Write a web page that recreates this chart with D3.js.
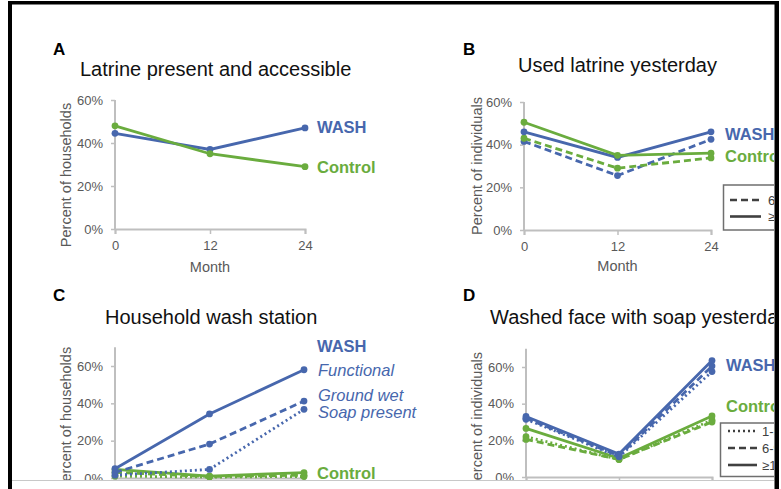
<!DOCTYPE html>
<html>
<head>
<meta charset="utf-8">
<script src="https://cdn.jsdelivr.net/npm/d3@7"></script>
<style>
  body { margin: 0; background: #fff; }
  svg { display: block; }
  text { font-family: "Liberation Sans", Arial, Helvetica, sans-serif; }
</style>
</head>
<body>
<svg id="fig" width="781" height="489"></svg>
<script>
// Survey months
const months = [0, 12, 24];
const monthTicks = [0, 12, 24];
const pctTicks = [0, 20, 40, 60];

// A. Latrine present and accessible (% of households)
const washLatrine = [44.5, 37, 47];
const controlLatrine = [48, 35, 29];

// B. Used latrine yesterday (% of individuals), by age group
const washUsed6to9 = [41.5, 25.5, 42.5];
const washUsed10plus = [46, 34, 46];
const controlUsed6to9 = [43, 29, 33.8];
const controlUsed10plus = [50.5, 35, 36];

// C. Household wash station (% of households)
const washFunctional = [5, 34.3, 58];
const washGroundWet = [3, 18.2, 41.2];
const washSoap = [1.5, 4.6, 36.8];
const controlFunctional = [4.6, 1, 2.9];
const controlGroundWet = [3, 0.8, 1.5];
const controlSoap = [1, 0.5, 0.8];

// D. Washed face with soap yesterday (% of individuals), by age group
const washFace1to5 = [31.5, 11, 57.5];
const washFace6to9 = [32, 11.5, 60.5];
const washFace10plus = [33, 12.5, 63.5];
const controlFace1to5 = [22, 9.5, 31];
const controlFace6to9 = [20.5, 9.6, 30];
const controlFace10plus = [26.5, 10.2, 33.3];

const ageGroups3 = ["1-5 years", "6-9 years", "\u226510 years"];
const ageGroups2 = ["6-9 years", "\u226510 years"];

const BLUE = "#4767ad";
const GREEN = "#6aac3e";
const AXIS = "#bfbfbf";
const TICKTXT = "#595959";
const DASH = "7,4";
const DOT = "2,3";

const svg = d3.select("#fig");

svg.append("defs").append("clipPath").attr("id", "frameClip")
  .append("rect").attr("x", 12).attr("y", 4).attr("width", 762).attr("height", 476);

const root = svg.append("g").attr("clip-path", "url(#frameClip)");

const panels = [
  {
    letter: "A", letterAt: [53, 55],
    title: "Latrine present and accessible", titleAt: [80, 76],
    yLabel: "Percent of households", yLabelAt: [71, 175],
    xRange: [115, 305], yRange: [229, 100], yMax: 60, yTop: 60,
    monthAt: 272,
    series: [
      { values: washLatrine, color: BLUE, dash: null },
      { values: controlLatrine, color: GREEN, dash: null }
    ],
    labels: [
      { text: "WASH", at: [317, 133], color: BLUE, weight: "bold", style: "normal" },
      { text: "Control", at: [317, 173], color: GREEN, weight: "bold", style: "normal" }
    ]
  },
  {
    letter: "B", letterAt: [463, 54.5],
    title: "Used latrine yesterday", titleAt: [518, 72],
    yLabel: "Percent of individuals", yLabelAt: [481.5, 166],
    xRange: [524, 711], yRange: [230, 102], yMax: 60, yTop: 60,
    monthAt: 271,
    series: [
      { values: washUsed6to9, color: BLUE, dash: DASH },
      { values: controlUsed6to9, color: GREEN, dash: DASH },
      { values: washUsed10plus, color: BLUE, dash: null },
      { values: controlUsed10plus, color: GREEN, dash: null }
    ],
    labels: [
      { text: "WASH", at: [725, 140], color: BLUE, weight: "bold", style: "normal" },
      { text: "Control", at: [725, 162], color: GREEN, weight: "bold", style: "normal" }
    ],
    legend: { box: [723.5, 185, 80, 45], rows: [200, 216.5], x: [730, 761], textX: 768,
              names: ageGroups2, dashes: [DASH, null] }
  },
  {
    letter: "C", letterAt: [53, 300.5],
    title: "Household wash station", titleAt: [105, 324],
    yLabel: "Percent of households", yLabelAt: [71, 419],
    xRange: [115, 304], yRange: [478, 366], yMax: 60, yTop: 70,
    monthAt: 520,
    series: [
      { values: controlSoap, color: GREEN, dash: DOT },
      { values: controlGroundWet, color: GREEN, dash: DASH },
      { values: controlFunctional, color: GREEN, dash: null },
      { values: washSoap, color: BLUE, dash: DOT },
      { values: washGroundWet, color: BLUE, dash: DASH },
      { values: washFunctional, color: BLUE, dash: null }
    ],
    labels: [
      { text: "WASH", at: [317, 352], color: BLUE, weight: "bold", style: "normal" },
      { text: "Functional", at: [318, 376], color: BLUE, weight: "normal", style: "italic" },
      { text: "Ground wet", at: [318, 401], color: BLUE, weight: "normal", style: "italic" },
      { text: "Soap present", at: [318, 418], color: BLUE, weight: "normal", style: "italic" },
      { text: "Control", at: [317, 479], color: GREEN, weight: "bold", style: "normal" }
    ]
  },
  {
    letter: "D", letterAt: [463, 300.5],
    title: "Washed face with soap yesterday", titleAt: [490, 324],
    yLabel: "Percent of individuals", yLabelAt: [481.5, 421],
    xRange: [526, 712], yRange: [477, 367], yMax: 60, yTop: 70,
    monthAt: 520,
    series: [
      { values: controlFace1to5, color: GREEN, dash: DOT },
      { values: controlFace6to9, color: GREEN, dash: DASH },
      { values: controlFace10plus, color: GREEN, dash: null },
      { values: washFace1to5, color: BLUE, dash: DOT },
      { values: washFace6to9, color: BLUE, dash: DASH },
      { values: washFace10plus, color: BLUE, dash: null }
    ],
    labels: [
      { text: "WASH", at: [726, 371], color: BLUE, weight: "bold", style: "normal" },
      { text: "Control", at: [726, 412], color: GREEN, weight: "bold", style: "normal" }
    ],
    legend: { box: [720.5, 423, 80, 53.5], rows: [431, 448, 465], x: [728, 757], textX: 762,
              names: ageGroups3, dashes: [DOT, DASH, null] }
  }
];

panels.forEach(p => {
  const g = root.append("g");

  g.append("text").attr("x", p.letterAt[0]).attr("y", p.letterAt[1])
    .attr("font-size", 17).attr("font-weight", "bold").attr("fill", "#000").text(p.letter);

  g.append("text").attr("x", p.titleAt[0]).attr("y", p.titleAt[1])
    .attr("font-size", 20).attr("fill", "#111").text(p.title);

  const x = d3.scaleLinear().domain([0, 24]).range(p.xRange);
  const y = d3.scaleLinear().domain([0, p.yMax]).range(p.yRange);

  // y axis
  const yAxis = g.append("g").attr("transform", `translate(${p.xRange[0]},0)`)
    .call(d3.axisLeft(y).tickValues(pctTicks).tickFormat(d => d + "%").tickSize(4).tickPadding(8));
  yAxis.select(".domain").attr("d", `M0,${y(0)}V${y(p.yTop)}`);
  // x axis
  const xAxis = g.append("g").attr("transform", `translate(0,${y(0)})`)
    .call(d3.axisBottom(x).tickValues(monthTicks).tickSize(5).tickPadding(7));

  [yAxis, xAxis].forEach(ax => {
    ax.select(".domain").attr("stroke", AXIS).attr("stroke-width", 2);
    ax.selectAll(".tick line").attr("stroke", AXIS).attr("stroke-width", 1.5);
    ax.selectAll(".tick text").attr("fill", TICKTXT).attr("font-size", 13)
      .attr("font-family", "'Liberation Sans', Arial, sans-serif");
  });

  g.append("text")
    .attr("transform", `translate(${p.yLabelAt[0]},${p.yLabelAt[1]}) rotate(-90)`)
    .attr("text-anchor", "middle").attr("font-size", 14.5).attr("fill", TICKTXT)
    .text(p.yLabel);

  g.append("text").attr("x", (p.xRange[0] + p.xRange[1]) / 2).attr("y", p.monthAt)
    .attr("text-anchor", "middle").attr("font-size", 14.5).attr("fill", TICKTXT)
    .text("Month");

  const line = d3.line().x((d, i) => x(months[i])).y(d => y(d));

  p.series.forEach(s => {
    g.append("path").datum(s.values).attr("d", line)
      .attr("fill", "none").attr("stroke", s.color).attr("stroke-width", 2.8)
      .attr("stroke-dasharray", s.dash);
    g.selectAll(null).data(s.values).enter().append("circle")
      .attr("cx", (d, i) => x(months[i])).attr("cy", d => y(d)).attr("r", 3.4)
      .attr("fill", s.color);
  });

  p.labels.forEach(l => {
    g.append("text").attr("x", l.at[0]).attr("y", l.at[1])
      .attr("font-size", 16.5).attr("font-weight", l.weight).attr("font-style", l.style)
      .attr("fill", l.color).text(l.text);
  });

  if (p.legend) {
    const L = p.legend;
    g.append("rect").attr("x", L.box[0]).attr("y", L.box[1]).attr("width", L.box[2]).attr("height", L.box[3])
      .attr("fill", "#fff").attr("stroke", "#6f6f6f").attr("stroke-width", 1.5);
    L.names.forEach((name, i) => {
      g.append("line").attr("x1", L.x[0]).attr("x2", L.x[1]).attr("y1", L.rows[i]).attr("y2", L.rows[i])
        .attr("stroke", "#404040").attr("stroke-width", 2.6).attr("stroke-dasharray", L.dashes[i]);
      g.append("text").attr("x", L.textX).attr("y", L.rows[i] + 4.5)
        .attr("font-size", 13).attr("fill", "#404040").text(name);
    });
  }
});

// Frame
svg.append("line").attr("x1", 12).attr("x2", 774).attr("y1", 480.5).attr("y2", 480.5)
  .attr("stroke", "#c8c8c8").attr("stroke-width", 1);
svg.append("rect").attr("x", 8).attr("y", 1).attr("width", 4).attr("height", 488).attr("fill", "#000");
svg.append("rect").attr("x", 8).attr("y", 1).attr("width", 771).attr("height", 3.5).attr("fill", "#000");
svg.append("rect").attr("x", 774.5).attr("y", 1).attr("width", 4.5).attr("height", 488).attr("fill", "#000");
</script>
</body>
</html>
